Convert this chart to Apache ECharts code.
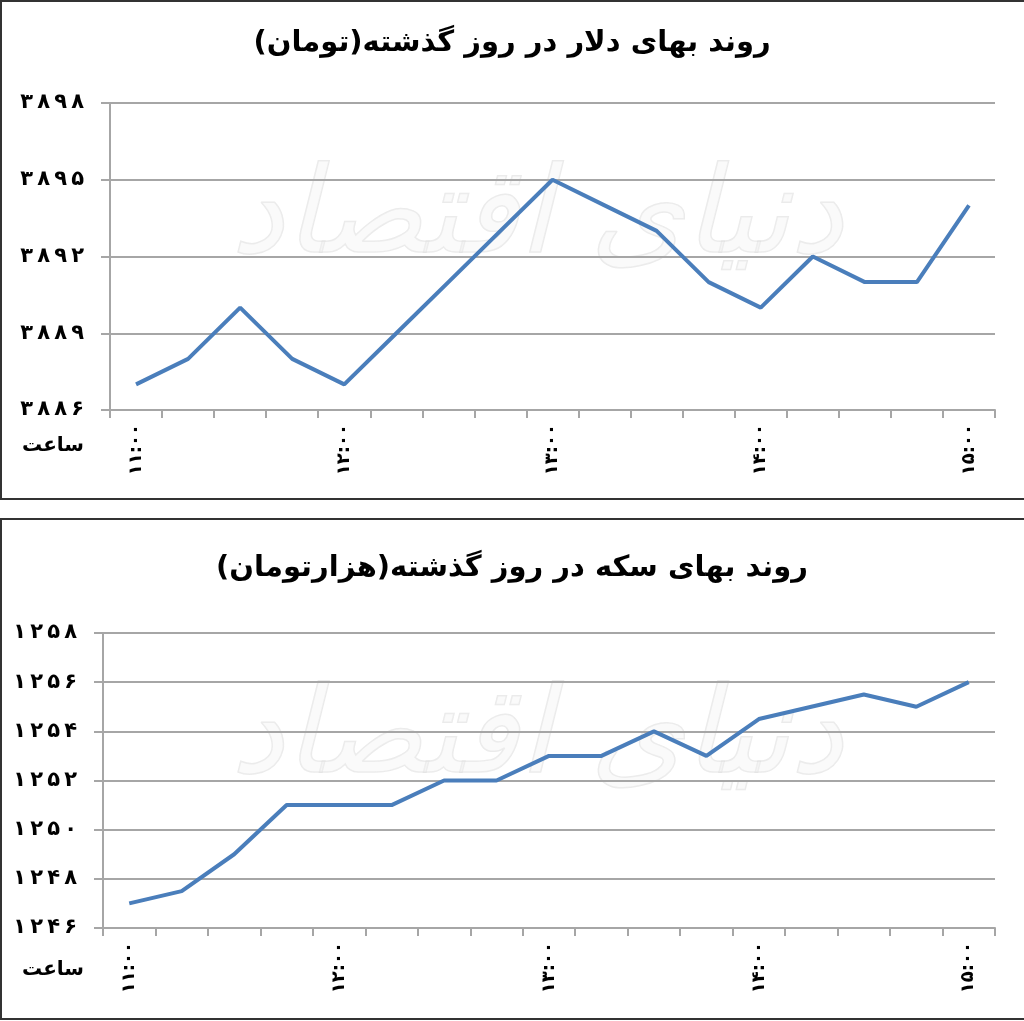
<!DOCTYPE html>
<html><head><meta charset="utf-8">
<script src="https://cdn.jsdelivr.net/npm/echarts@6/dist/echarts.min.js"></script>
<style>html,body{margin:0;padding:0;background:#fff;overflow:hidden}#c{width:1024px;height:1021px}</style>
</head><body><div id="c"></div>
<script>
var categories = ["11:00","11:15","11:30","11:45","12:00","12:15","12:30","12:45","13:00","13:15","13:30","13:45","14:00","14:15","14:30","14:45","15:00"];
var dollarValues = [3887,3888,3890,3888,3887,3889,3891,3893,3895,3894,3893,3891,3890,3892,3891,3891,3894];
var coinValues = [1247,1247.5,1249,1251,1251,1251,1252,1252,1253,1253,1254,1253,1254.5,1255,1255.5,1255,1256];
var dollarTitle = "روند بهای دلار در روز گذشته(تومان)";
var coinTitle = "روند بهای سکه در روز گذشته(هزارتومان)";
var hourLabel = "ساعت";
var watermark = "دنیای اقتصاد";

function fa(s){ return String(s).replace(/[0-9]/g, function(d){ return "۰۱۲۳۴۵۶۷۸۹"[+d]; }); }
function faSpaced(v){ return fa(v).split("").join("\u2009"); }

var font = "DejaVu Sans";
var lineColor = "#4A7EBB";
var gridColor = "#A6A6A6";

function xAxis(gi){
  return {
    type:"category", gridIndex:gi, data:categories, boundaryGap:true,
    axisLine:{lineStyle:{color:gridColor,width:2}},
    axisTick:{show:true, interval:0, length:8, lineStyle:{color:gridColor,width:2}},
    axisLabel:{interval:3, rotate:90, margin:14, color:"#000", fontFamily:font, fontWeight:"bold", fontSize:18,
      formatter:function(v){ return fa(v); }}
  };
}
function yAxis(gi,min,max,interval){
  return {
    type:"value", gridIndex:gi, min:min, max:max, interval:interval,
    axisLine:{show:true, lineStyle:{color:gridColor,width:2}},
    axisTick:{show:true, length:9, lineStyle:{color:gridColor,width:2}},
    splitLine:{lineStyle:{color:gridColor,width:2}},
    axisLabel:{margin:26, color:"#000", fontFamily:font, fontWeight:"bold", fontSize:21,
      formatter:function(v){ return faSpaced(v); }}
  };
}

var chart = echarts.init(document.getElementById("c"), null, {renderer:"canvas"});
chart.setOption({
  animation:false,
  backgroundColor:"#fff",
  title:[
    {text:dollarTitle, left:"center", top:24, textStyle:{fontFamily:font, fontWeight:"bold", fontSize:29, color:"#000"}},
    {text:coinTitle, left:"center", top:549, textStyle:{fontFamily:font, fontWeight:"bold", fontSize:29, color:"#000"}}
  ],
  grid:[
    {left:110, right:29, top:103, height:307},
    {left:103, right:29, top:633, height:295}
  ],
  xAxis:[xAxis(0), xAxis(1)],
  yAxis:[yAxis(0,3886,3898,3), yAxis(1,1246,1258,2)],
  graphic:[
    {type:"rect", shape:{x:1,y:1,width:1060,height:498}, style:{fill:"none", stroke:"#333", lineWidth:2}, z:-1},
    {type:"rect", shape:{x:1,y:519,width:1060,height:500}, style:{fill:"none", stroke:"#333", lineWidth:2}, z:-1},
    {type:"text", left:22, top:436, style:{text:hourLabel, font:"bold 20px DejaVu Sans", fill:"#000"}},
    {type:"text", left:22, top:960, style:{text:hourLabel, font:"bold 20px DejaVu Sans", fill:"#000"}},
    {type:"text", left:230, top:160, style:{text:watermark, font:"italic 120px DejaVu Sans", fill:"rgba(240,240,240,0.35)", stroke:"rgba(205,205,205,0.4)", lineWidth:1.5}, z:-2},
    {type:"text", left:230, top:680, style:{text:watermark, font:"italic 120px DejaVu Sans", fill:"rgba(240,240,240,0.35)", stroke:"rgba(205,205,205,0.4)", lineWidth:1.5}, z:-2}
  ],
  series:[
    {type:"line", xAxisIndex:0, yAxisIndex:0, data:dollarValues, symbol:"none", lineStyle:{color:lineColor, width:4}},
    {type:"line", xAxisIndex:1, yAxisIndex:1, data:coinValues, symbol:"none", lineStyle:{color:lineColor, width:4}}
  ]
});
</script></body></html>
